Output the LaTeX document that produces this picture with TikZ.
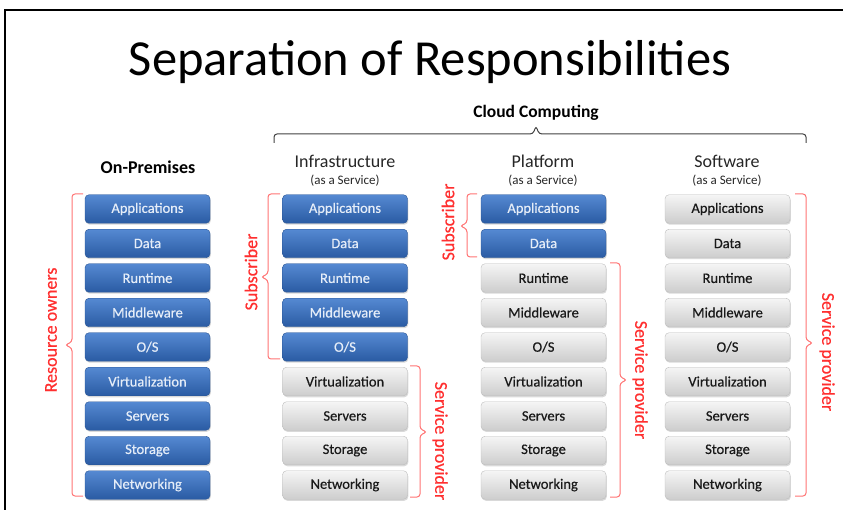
\documentclass[tikz,border=0pt]{standalone}
\usepackage{fontspec}
\setmainfont{Carlito}
\newfontface\heavyface{Carlito}[FakeBold=0.5]
\usetikzlibrary{shadows}

\definecolor{boxblueTop}{HTML}{5589D2}
\definecolor{boxblueBot}{HTML}{2A5BA3}
\definecolor{boxblueEdge}{HTML}{2A5594}
\definecolor{boxgrayTop}{HTML}{F5F5F5}
\definecolor{boxgrayBot}{HTML}{CDCDCD}
\definecolor{boxgrayEdge}{HTML}{BDBDBD}
\definecolor{respred}{HTML}{FF2F2F}
\definecolor{bracketred}{HTML}{FF7373}

\tikzset{
  layerbox/.style={rounded corners=4pt, minimum width=125pt, minimum height=28.5pt,
    inner sep=0pt, font=\heavyface\fontsize{14.5}{16}\selectfont,
    drop shadow={shadow xshift=0.8pt, shadow yshift=-1.5pt, opacity=0.3}},
  bluebox/.style={layerbox, draw=boxblueEdge, top color=boxblueTop, bottom color=boxblueBot,
    text=white!85!boxblueTop},
  graybox/.style={layerbox, draw=boxgrayEdge, top color=boxgrayTop, bottom color=boxgrayBot,
    text=black!90},
  colhead/.style={font=\fontsize{18}{20}\selectfont, text=black!85},
  colsub/.style={font=\fontsize{13}{14}\selectfont, text=black!85},
  bracket/.style={draw=bracketred, line width=1pt, rounded corners=3pt},
  redlabel/.style={text=respred, font=\heavyface\fontsize{18}{20}\selectfont}
}

\begin{document}
\begin{tikzpicture}[x=1pt, y=-1pt]
  \useasboundingbox (0,0) rectangle (843,510);
  \draw[line width=1.5pt] (5,520) -- (5,10) -- (850,10);

  \node[font=\fontsize{50.5}{56}\selectfont] (title) at (430,62) {Separation of Responsibilities};

  % headers
  \node[font=\bfseries\fontsize{17.5}{20}\selectfont] (cloud) at (536,113) {Cloud Computing};
  \draw[draw=black!75, line width=1pt, rounded corners=3pt]
    (274,143) -- (274,134) -- (533,134) -- (536,126) -- (539,134) -- (806,134) -- (806,143);
  \node[font=\bfseries\fontsize{18}{20}\selectfont] (onprem) at (148,167) {On-Premises};
  \node[colhead] (iaas) at (345,161) {Infrastructure};
  \node[colsub] (iaassub) at (345,181) {(as a Service)};
  \node[colhead] (paas) at (543,161) {Platform};
  \node[colsub] (paassub) at (543,181) {(as a Service)};
  \node[colhead] (saas) at (727,161) {Software};
  \node[colsub] (saassub) at (727,181) {(as a Service)};

  % stacks
  \foreach \lbl [count=\i] in {Applications, Data, Runtime, Middleware, O/S,
      Virtualization, Servers, Storage, Networking} {
    \node[bluebox] (op\i) at (147.5,174.5+34.5*\i) {\lbl};
    \ifnum\i<6
      \node[bluebox] (ia\i) at (345,174.5+34.5*\i) {\lbl};
    \else
      \node[graybox] (ia\i) at (345,174.5+34.5*\i) {\lbl};
    \fi
    \ifnum\i<3
      \node[bluebox] (pa\i) at (543.5,174.5+34.5*\i) {\lbl};
    \else
      \node[graybox] (pa\i) at (543.5,174.5+34.5*\i) {\lbl};
    \fi
    \node[graybox] (sa\i) at (727.5,174.5+34.5*\i) {\lbl};
  }

  % responsibility brackets
  \draw[bracket] (83,194) -- (72,194) -- (72,342) -- (65,345) -- (72,348) -- (72,496) -- (83,496);
  \node[redlabel, rotate=90] (owners) at (51,330) {Resource owners};

  \draw[bracket] (280,194) -- (268,194) -- (268,274) -- (261,277) -- (268,280) -- (268,359) -- (280,359);
  \node[redlabel, rotate=90] (iasub) at (251,272) {Subscriber};
  \draw[bracket] (410,366) -- (420,366) -- (420,429) -- (427,432) -- (420,435) -- (420,497) -- (410,497);
  \node[redlabel, rotate=-90] (iaprov) at (440,441) {Service provider};

  \draw[bracket] (477,194) -- (467,194) -- (467,223) -- (460,226) -- (467,229) -- (467,257) -- (477,257);
  \node[redlabel, rotate=90] (pasub) at (448,222) {Subscriber};
  \draw[bracket] (610,263) -- (620,263) -- (620,377) -- (627,380) -- (620,383) -- (620,497) -- (610,497);
  \node[redlabel, rotate=-90] (paprov) at (640,380) {Service provider};

  \draw[bracket] (795,194) -- (806,194) -- (806,340) -- (813,343) -- (806,346) -- (806,496) -- (795,496);
  \node[redlabel, rotate=-90] (saprov) at (827,352) {Service provider};
\end{tikzpicture}
\end{document}
